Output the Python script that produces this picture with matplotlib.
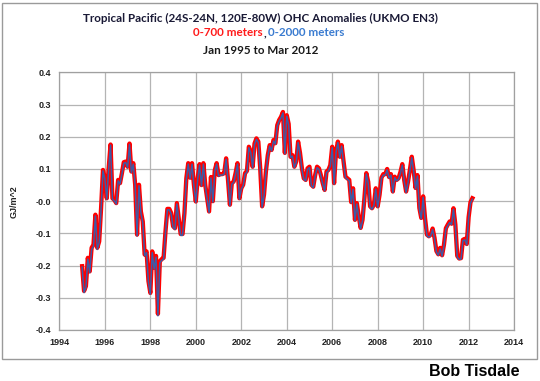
import numpy as np
import matplotlib.pyplot as plt
from matplotlib.patches import Rectangle

# monthly anomalies, Jan 1995 .. Mar 2012 (GJ/m^2)
ohc_700 = [
    -0.202, -0.279, -0.264, -0.176, -0.218, -0.145, -0.135, -0.042, -0.145, -0.125, -0.022, 0.097,  # 1995
    0.071, 0.009, 0.102, 0.176, 0.009, 0.004, -0.006, 0.066, 0.056, 0.087, 0.121, 0.123,  # 1996
    0.107, 0.179, 0.092, 0.118, 0.051, -0.104, 0.051, -0.032, -0.063, -0.166, -0.156, -0.248,  # 1997
    -0.285, -0.156, -0.207, -0.170, -0.350, -0.187, -0.180, -0.176, -0.094, -0.024, -0.024, -0.037,  # 1998
    -0.078, -0.084, -0.006, -0.053, -0.102, -0.102, -0.037, 0.071, 0.118, 0.073, 0.118, 0.051,  # 1999
    -0.001, 0.071, 0.115, 0.050, 0.118, 0.050, 0.009, -0.032, 0.075, 0.000, 0.095, 0.118,  # 2000
    0.081, 0.084, 0.084, 0.087, 0.133, 0.066, -0.011, 0.056, 0.061, 0.087, 0.118, 0.009,  # 2001
    0.040, 0.051, 0.087, 0.094, 0.169, 0.154, 0.107, 0.179, 0.195, 0.185, 0.102, -0.016,  # 2002
    0.020, 0.092, 0.143, 0.174, 0.159, 0.190, 0.180, 0.236, 0.252, 0.262, 0.277, 0.150,  # 2003
    0.267, 0.240, 0.138, 0.143, 0.107, 0.123, 0.185, 0.150, 0.102, 0.071, 0.066, 0.102,  # 2004
    0.107, 0.051, 0.045, 0.081, 0.107, 0.102, 0.081, 0.056, 0.035, 0.092, 0.097, 0.112,  # 2005
    0.169, 0.056, 0.154, 0.185, 0.138, 0.174, 0.123, 0.076, 0.071, 0.066, -0.003, 0.040,  # 2006
    -0.058, -0.006, -0.047, -0.083, -0.058, 0.009, 0.087, 0.060, -0.016, -0.022, -0.011, 0.040,  # 2007
    -0.016, 0.020, 0.073, 0.084, 0.084, 0.100, 0.075, 0.084, 0.030, 0.076, 0.066, 0.071,  # 2008
    0.090, 0.115, 0.066, 0.030, 0.060, 0.097, 0.138, 0.095, 0.041, 0.081, -0.021, -0.052,  # 2009
    0.015, -0.053, -0.104, -0.109, -0.104, -0.085, -0.114, -0.155, -0.165, -0.145, -0.168, -0.135,  # 2010
    -0.084, -0.073, -0.063, -0.070, -0.022, -0.073, -0.170, -0.178, -0.177, -0.120, -0.117, -0.133,  # 2011
    -0.050, -0.003, 0.009,  # 2012
]

ohc_2000 = [
    -0.205, -0.284, -0.268, -0.180, -0.222, -0.150, -0.140, -0.046, -0.150, -0.128, -0.025, 0.094,  # 1995
    0.068, 0.006, 0.099, 0.174, 0.006, 0.001, -0.009, 0.063, 0.053, 0.084, 0.118, 0.120,  # 1996
    0.104, 0.176, 0.089, 0.115, 0.048, -0.108, 0.048, -0.035, -0.067, -0.170, -0.160, -0.252,  # 1997
    -0.289, -0.160, -0.211, -0.174, -0.356, -0.191, -0.184, -0.180, -0.098, -0.027, -0.027, -0.040,  # 1998
    -0.081, -0.088, -0.009, -0.056, -0.106, -0.106, -0.040, 0.068, 0.115, 0.070, 0.115, 0.048,  # 1999
    -0.004, 0.068, 0.112, 0.047, 0.115, 0.047, 0.006, -0.035, 0.072, -0.003, 0.092, 0.115,  # 2000
    0.078, 0.081, 0.081, 0.084, 0.130, 0.063, -0.014, 0.053, 0.058, 0.084, 0.115, 0.006,  # 2001
    0.037, 0.048, 0.084, 0.091, 0.166, 0.151, 0.104, 0.176, 0.192, 0.182, 0.099, -0.019,  # 2002
    0.017, 0.089, 0.140, 0.171, 0.156, 0.187, 0.177, 0.233, 0.249, 0.259, 0.274, 0.147,  # 2003
    0.264, 0.237, 0.135, 0.140, 0.104, 0.120, 0.182, 0.147, 0.099, 0.068, 0.063, 0.099,  # 2004
    0.104, 0.048, 0.042, 0.078, 0.104, 0.099, 0.078, 0.053, 0.032, 0.089, 0.094, 0.109,  # 2005
    0.166, 0.053, 0.151, 0.182, 0.135, 0.171, 0.120, 0.073, 0.068, 0.063, -0.006, 0.037,  # 2006
    -0.061, -0.009, -0.050, -0.086, -0.061, 0.006, 0.084, 0.057, -0.019, -0.025, -0.014, 0.037,  # 2007
    -0.019, 0.017, 0.070, 0.081, 0.081, 0.097, 0.072, 0.081, 0.027, 0.073, 0.063, 0.068,  # 2008
    0.087, 0.112, 0.063, 0.027, 0.057, 0.094, 0.135, 0.092, 0.038, 0.078, -0.024, -0.055,  # 2009
    0.012, -0.056, -0.107, -0.112, -0.107, -0.088, -0.117, -0.158, -0.168, -0.148, -0.171, -0.138,  # 2010
    -0.087, -0.076, -0.066, -0.073, -0.025, -0.076, -0.173, -0.181, -0.180, -0.123, -0.120, -0.136,  # 2011
    -0.053, -0.006, 0.006,  # 2012
]

years = 1995 + np.arange(len(ohc_700)) / 12.0

fig = plt.figure(figsize=(5.4, 3.81), dpi=100)
ax = fig.add_axes([0.110, 0.134, 0.842, 0.676])

ax.plot(years, ohc_700, color="#ff0000", lw=3.1, solid_joinstyle="round", zorder=3)
ax.plot(years, ohc_2000, color="#3d5ba6", lw=1.1, solid_joinstyle="round", zorder=4)

ax.set_xlim(1994, 2014)
ax.set_ylim(-0.4, 0.4)
ax.set_xticks(np.arange(1994, 2015, 2))
ax.set_yticks(np.arange(-0.4, 0.41, 0.1))
ax.set_yticklabels([f"{v:.1f}" for v in np.arange(-0.4, 0.41, 0.1)])
ax.grid(True, color="#b4b4b4", lw=0.9)
ax.set_axisbelow(True)
for s in ax.spines.values():
    s.set_color("#a0a0a0")
    s.set_linewidth(0.9)
ax.tick_params(length=0, pad=6, labelsize=6.5, labelcolor="#222222")
for lab in ax.get_xticklabels() + ax.get_yticklabels():
    lab.set_family("Liberation Sans")
    lab.set_fontweight("bold")

fig.text(0.026, 0.47, "GJ/m^2", rotation=90, ha="center", va="center",
         fontsize=6.5, fontweight="bold", family="Liberation Sans", color="#222222")

# titles
tfont = dict(family="Lato", fontweight="bold", fontsize=8.4, va="center")
fig.text(0.482, 1 - 18 / 381, "Tropical Pacific (24S-24N, 120E-80W) OHC Anomalies (UKMO EN3)",
         ha="center", color="#1a1a36", **tfont)
fig.text(263 / 540, 1 - 33 / 381, "0-700 meters", ha="right", color="#ff1a1a", **tfont)
fig.text(263 / 540, 1 - 33 / 381, ",", ha="left", color="#1a1a36", **tfont)
fig.text(268 / 540, 1 - 33 / 381, "0-2000 meters", ha="left", color="#3a7bd0", **tfont)
fig.text(0.482, 1 - 50 / 381, "Jan 1995 to Mar 2012", ha="center", color="#1a1a1a", **tfont)

# chart border
fig.patches.append(Rectangle((2 / 540, 1 - 359 / 381), 535 / 540, 356 / 381,
                             transform=fig.transFigure, fill=False,
                             edgecolor="#9a9a9a", lw=1.0))

fig.text(0.962, 1 - 371 / 381, "Bob Tisdale", ha="right", va="center",
         fontsize=11.5, fontweight="bold", family="Liberation Sans", color="black")

fig.savefig("out.png", dpi=100)
